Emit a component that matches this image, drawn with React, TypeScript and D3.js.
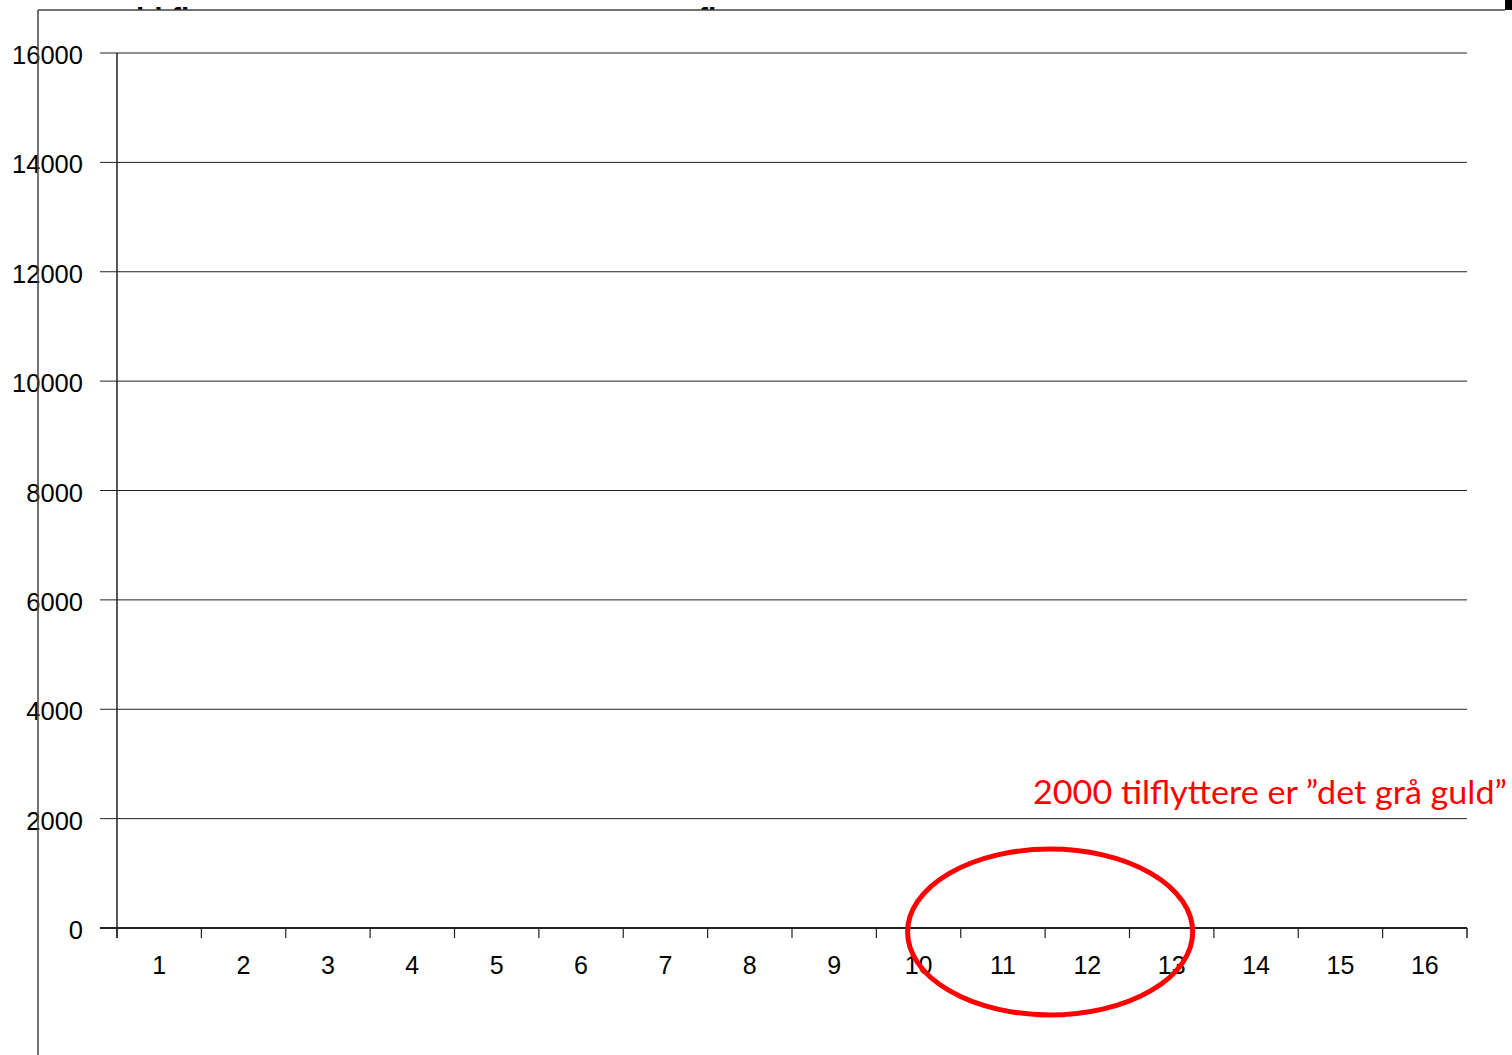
import React from "react";
import * as d3 from "d3";

const categories = ["1","2","3","4","5","6","7","8","9","10","11","12","13","14","15","16"];
const yTicks = [0, 2000, 4000, 6000, 8000, 10000, 12000, 14000, 16000];
const seriesValues: number[] = []; // chart is empty in the reference
const annotation = "2000 tilflyttere er \u201ddet grå guld\u201d";
const highlightCats = ["10", "13"];

export default function App() {
  const W = 1512, H = 1055;
  const left = 117, right = 1467, top = 53, bottom = 928;
  const x = d3.scaleBand<string>().domain(categories).range([left, right]);
  const y = d3.scaleLinear().domain([0, 16000]).range([bottom, top]);
  const font = "'Liberation Sans', Arial, sans-serif";

  const x0 = x(highlightCats[0])! + x.bandwidth() / 2;
  const x1 = x(highlightCats[1])! + x.bandwidth() / 2;
  const cx = (x0 + x1) / 2 + 5;
  const rx = (x1 - x0) / 2 + 16;

  return (
    <svg width={W} height={H} style={{ position: "absolute", left: 0, top: 0, background: "#fff" }}>
      <defs>
        <clipPath id="titleClip"><rect x={0} y={0} width={W} height={10} /></clipPath>
      </defs>
      <g clipPath="url(#titleClip)" fontFamily={font} fontWeight="bold" fontSize={30} fill="#000">
        <text x={136} y={29}>ld fl</text>
        <text x={622} y={29}>e</text>
        <text x={698} y={29}>fl</text>
      </g>
      <rect x={1505} y={0} width={7} height={10} fill="#000" />
      <line x1={38} y1={10} x2={1505} y2={10} stroke="#444" strokeWidth={1.5} />
      {yTicks.map((t) => (
        <line key={t} x1={100} x2={right} y1={y(t)} y2={y(t)} stroke="#222" strokeWidth={t === 0 ? 2 : 1} />
      ))}
      <line x1={left} x2={left} y1={top} y2={bottom + 10} stroke="#222" strokeWidth={1.5} />
      {categories.map((c) => (
        <line key={c} x1={x(c)!} x2={x(c)!} y1={bottom} y2={bottom + 10} stroke="#222" strokeWidth={1.2} />
      ))}
      <line x1={right} x2={right} y1={bottom} y2={bottom + 10} stroke="#222" strokeWidth={1.5} />
      {seriesValues.map((v, i) => (
        <rect key={i} x={x(categories[i])!} y={y(v)} width={x.bandwidth()} height={bottom - y(v)} fill="#999" />
      ))}
      {yTicks.map((t) => (
        <text key={t} x={83} y={y(t) + 11} textAnchor="end" fontFamily={font} fontSize={25.5} fill="#000">{t}</text>
      ))}
      {categories.map((c) => (
        <text key={c} x={x(c)! + x.bandwidth() / 2} y={974} textAnchor="middle" fontFamily={font} fontSize={25} fill="#000">{c}</text>
      ))}
      <line x1={38} y1={10} x2={38} y2={H} stroke="#444" strokeWidth={1.5} />
      <ellipse cx={cx} cy={y(0) + 4} rx={rx} ry={83} fill="none" stroke="#f00" strokeWidth={5} />
      <text x={1033} y={804} fontFamily="Lato, 'Open Sans', sans-serif" fontSize={32} fill="#f00" textLength={474} lengthAdjust="spacingAndGlyphs">{annotation}</text>
    </svg>
  );
}
